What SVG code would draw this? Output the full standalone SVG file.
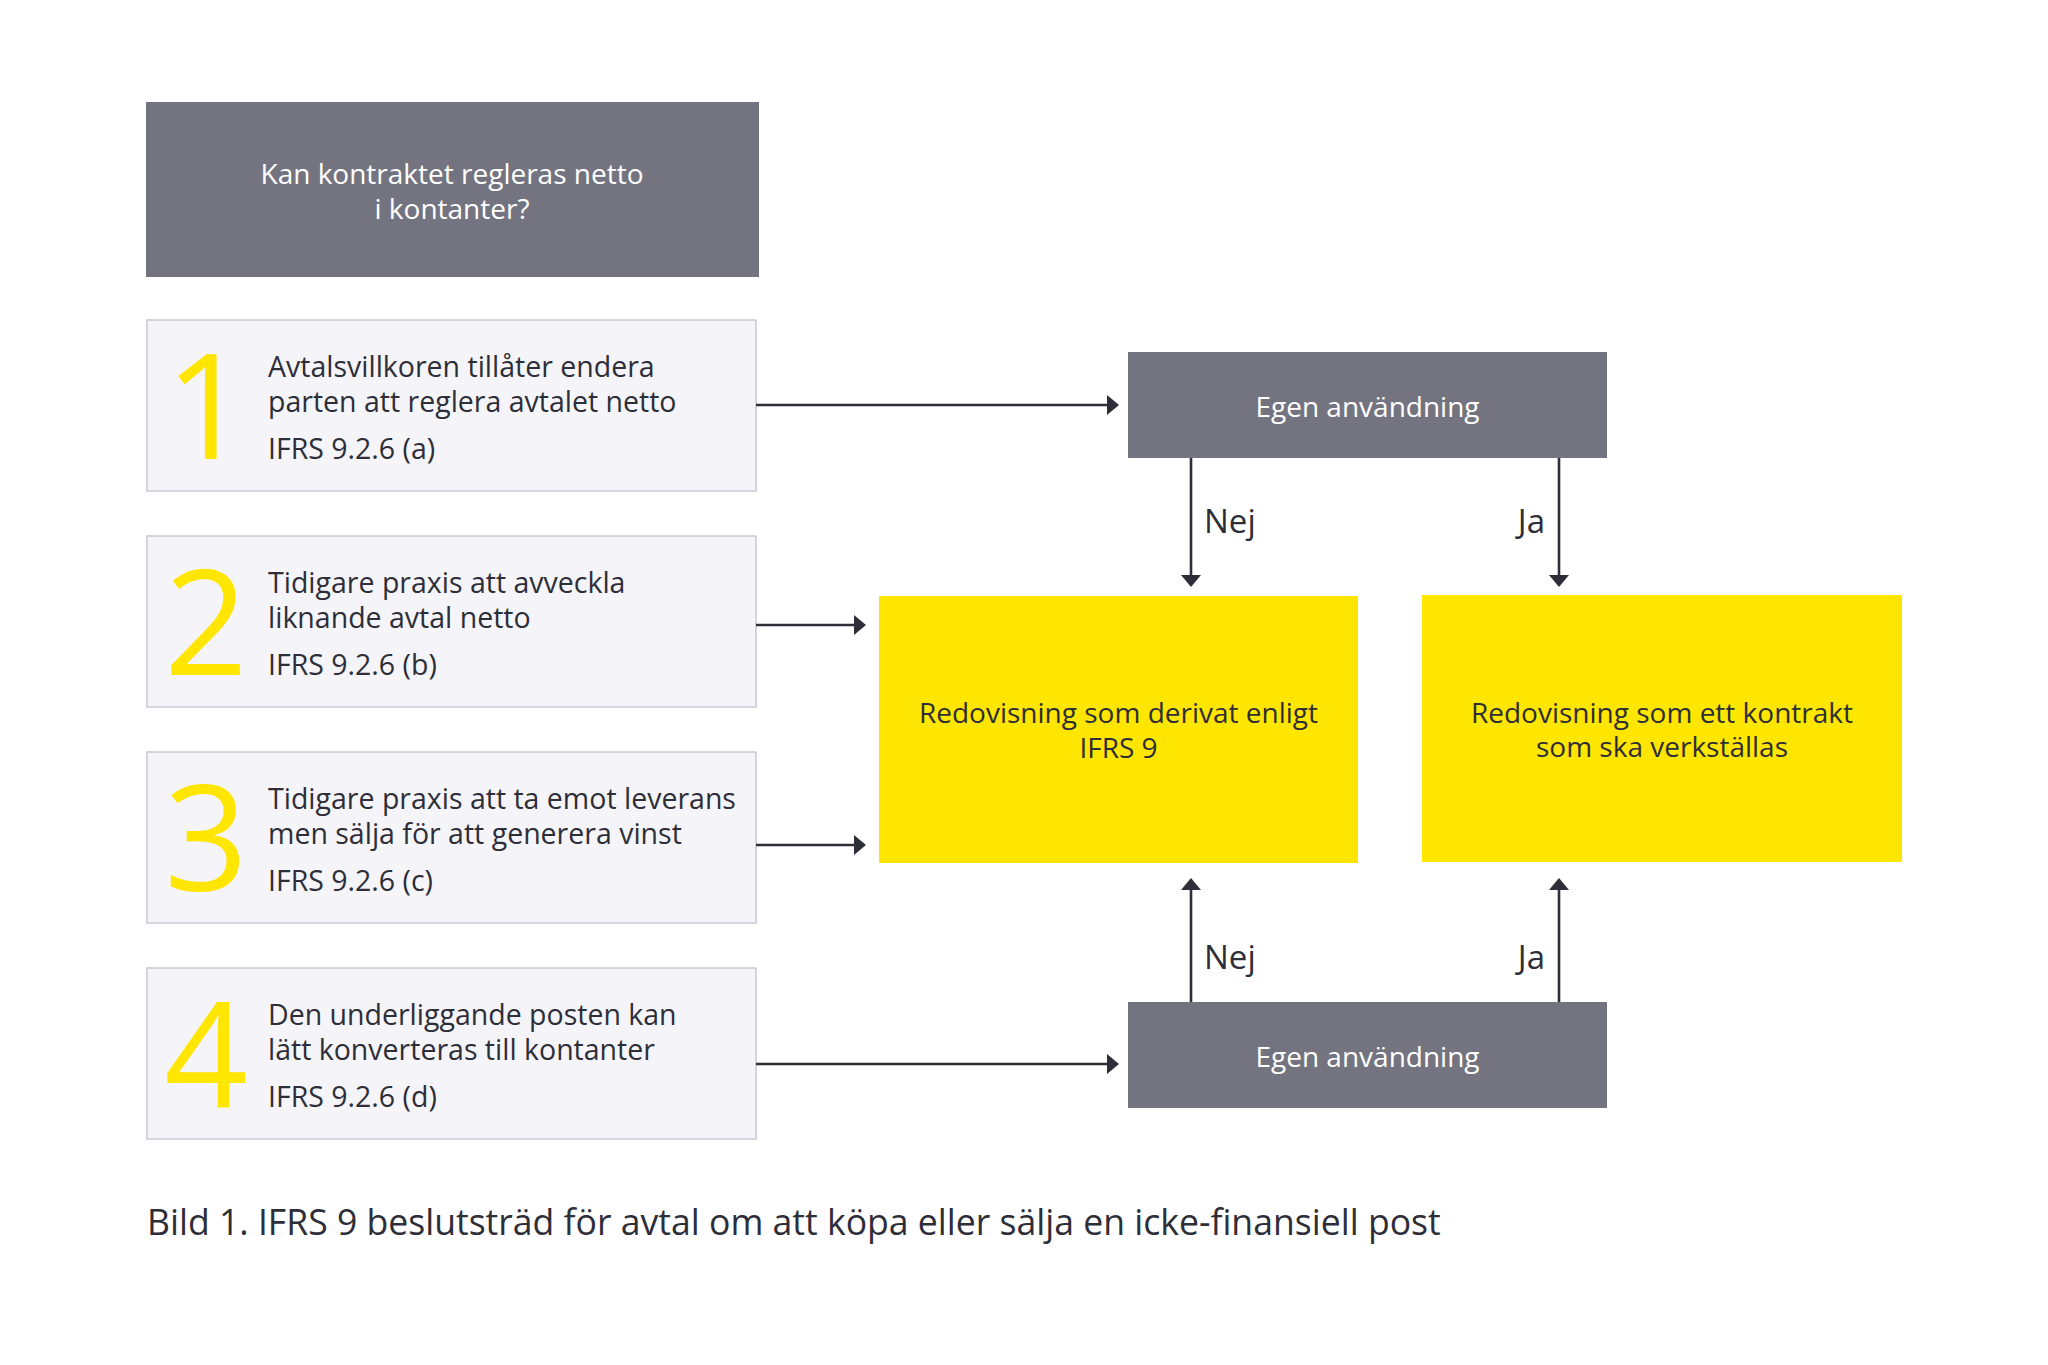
<svg xmlns="http://www.w3.org/2000/svg" width="2048" height="1365" viewBox="0 0 2048 1365">
<style>
text{font-family:"Open Sans","Liberation Sans",sans-serif;}
.gray{fill:#747480;}
.light{fill:#f5f5f9;stroke:#c9c9d2;stroke-width:1.5;}
.yel{fill:#ffe600;}
.wt{fill:#ffffff;font-size:28px;}
.dt{fill:#2e2e38;font-size:28.5px;}
.ct{fill:#2e2e38;font-size:28px;}
.num{fill:#ffe600;font-size:146px;text-anchor:middle;}
.lbl{fill:#2e2e38;font-size:33px;}
.cap{fill:#2e2e38;font-size:35.6px;}
.conn{stroke:#2e2e38;stroke-width:2.6;fill:none;marker-end:url(#ah);}
</style>
<defs>
<marker id="ah" markerUnits="userSpaceOnUse" markerWidth="12" markerHeight="20" refX="2" refY="10" orient="auto" viewBox="0 0 12 20">
<path d="M0,0 L12,10 L0,20 z" fill="#2e2e38"/>
</marker>
</defs>
<rect width="2048" height="1365" fill="#ffffff"/>

<g id="question">
<rect class="gray" x="146" y="102" width="613" height="175"/>
<text class="wt" x="452" y="184" text-anchor="middle">Kan kontraktet regleras netto</text>
<text class="wt" x="452" y="219" text-anchor="middle">i kontanter?</text>
</g>

<g id="crit1">
<rect class="light" x="147" y="320" width="609" height="171"/>
<text class="num" x="207" y="459">1</text>
<text class="dt" x="268" y="376.5">Avtalsvillkoren tillåter endera</text>
<text class="dt" x="268" y="411.5">parten att reglera avtalet netto</text>
<text class="dt" x="268" y="458.5">IFRS 9.2.6 (a)</text>
</g>

<g id="crit2">
<rect class="light" x="147" y="536" width="609" height="171"/>
<text class="num" x="206" y="675">2</text>
<text class="dt" x="268" y="592.5">Tidigare praxis att avveckla</text>
<text class="dt" x="268" y="627.5">liknande avtal netto</text>
<text class="dt" x="268" y="674.5">IFRS 9.2.6 (b)</text>
</g>

<g id="crit3">
<rect class="light" x="147" y="752" width="609" height="171"/>
<text class="num" x="206" y="891">3</text>
<text class="dt" x="268" y="808.5">Tidigare praxis att ta emot leverans</text>
<text class="dt" x="268" y="843.5">men sälja för att generera vinst</text>
<text class="dt" x="268" y="890.5">IFRS 9.2.6 (c)</text>
</g>

<g id="crit4">
<rect class="light" x="147" y="968" width="609" height="171"/>
<text class="num" x="206" y="1107">4</text>
<text class="dt" x="268" y="1024.5">Den underliggande posten kan</text>
<text class="dt" x="268" y="1059.5">lätt konverteras till kontanter</text>
<text class="dt" x="268" y="1106.5">IFRS 9.2.6 (d)</text>
</g>

<g id="egen-top">
<rect class="gray" x="1128" y="352" width="479" height="106"/>
<text class="wt" x="1367.5" y="417" text-anchor="middle">Egen användning</text>
</g>

<g id="egen-bottom">
<rect class="gray" x="1128" y="1002" width="479" height="106"/>
<text class="wt" x="1367.5" y="1067" text-anchor="middle">Egen användning</text>
</g>

<g id="derivat">
<rect class="yel" x="879" y="596" width="479" height="267"/>
<text class="ct" x="1118.5" y="723" text-anchor="middle">Redovisning som derivat enligt</text>
<text class="ct" x="1118.5" y="758" text-anchor="middle">IFRS 9</text>
</g>

<g id="kontrakt">
<rect class="yel" x="1422" y="595" width="480" height="267"/>
<text class="ct" x="1662" y="722.5" text-anchor="middle">Redovisning som ett kontrakt</text>
<text class="ct" x="1662" y="757" text-anchor="middle">som ska verkställas</text>
</g>

<g id="connectors">
<line class="conn" x1="756" y1="405" x2="1109" y2="405"/>
<line class="conn" x1="756" y1="625" x2="856" y2="625"/>
<line class="conn" x1="756" y1="845" x2="856" y2="845"/>
<line class="conn" x1="756" y1="1064" x2="1109" y2="1064"/>
<line class="conn" x1="1191" y1="458" x2="1191" y2="577"/>
<line class="conn" x1="1559" y1="458" x2="1559" y2="577"/>
<line class="conn" x1="1191" y1="1002" x2="1191" y2="888"/>
<line class="conn" x1="1559" y1="1002" x2="1559" y2="888"/>
<text class="lbl" x="1204" y="533">Nej</text>
<text class="lbl" x="1545" y="533" text-anchor="end">Ja</text>
<text class="lbl" x="1204" y="969">Nej</text>
<text class="lbl" x="1545" y="969" text-anchor="end">Ja</text>
</g>

<g id="caption">
<text class="cap" x="147" y="1235">Bild 1. IFRS 9 beslutsträd för avtal om att köpa eller sälja en icke-finansiell post</text>
</g>
</svg>
